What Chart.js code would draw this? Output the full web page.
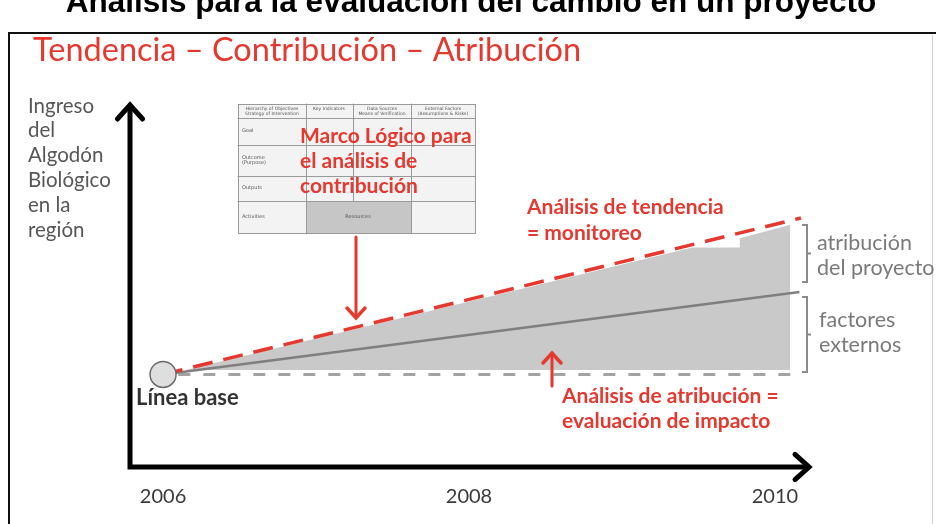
<!DOCTYPE html>
<html>
<head>
<meta charset="utf-8">
<script src="https://cdn.jsdelivr.net/npm/chart.js@4"></script>
<style>
  html, body { margin: 0; padding: 0; background: #fff; overflow: hidden; }
  #chart { display: block; }
</style>
</head>
<body>
<canvas id="chart" width="936" height="524"></canvas>
<script>
/* Values (ingreso on an arbitrary 0-200 scale) */
let tickYears = [2006, 2008, 2010]
let tickLabels = ['2006', '2008', '2010']

let baseYears = [2006]
let baseValues = [51]

// Análisis de tendencia (con proyecto)
let trendYears = [2006, 2010.17]
let trendValues = [51, 137.2]

// factores externos (sin proyecto)
let externalYears = [2006, 2010.16]
let externalValues = [51, 96.4]

// línea base
let baselineYears = [2006.1, 2010.15]
let baselineValues = [51, 51]

// grey area under the trend
let areaYears = [2006.15, 2009.46, 2009.77, 2009.77, 2010.10]
let areaValues = [53.5, 121, 121, 126, 133.5]
let areaFloor = 53.5

let red = '#e5382f'
let greyText = '#7a7a7a'

function points(xs, ys) {
    return xs.map(function(x, i) { return { x: x, y: ys[i] } })
}

function text(ctx, str, x, y, font, color, align) {
    ctx.font = font
    ctx.fillStyle = color
    ctx.textAlign = align || 'left'
    ctx.textBaseline = 'middle'
    ctx.fillText(str, x, y)
}

function arrowHead(ctx, tipX, tipY, dx, dy, size, width, color) {
    // open chevron pointing in direction (dx, dy)
    let px = -dy, py = dx
    ctx.strokeStyle = color
    ctx.lineWidth = width
    ctx.lineCap = 'round'
    ctx.lineJoin = 'miter'
    ctx.beginPath()
    ctx.moveTo(tipX - dx * size + px * size * 0.9, tipY - dy * size + py * size * 0.9)
    ctx.lineTo(tipX, tipY)
    ctx.lineTo(tipX - dx * size - px * size * 0.9, tipY - dy * size - py * size * 0.9)
    ctx.stroke()
}

function drawTable(ctx) {
    let cols = [238, 306, 353, 411, 475]
    let rows = [104, 118, 145, 176, 201, 233]
    ctx.fillStyle = '#f3f3f3'
    ctx.fillRect(cols[0], rows[0], cols[4] - cols[0], rows[5] - rows[0])
    ctx.fillStyle = '#c6c6c6'
    ctx.fillRect(cols[1], rows[4], cols[3] - cols[1], rows[5] - rows[4])
    ctx.strokeStyle = '#9a9a9a'
    ctx.lineWidth = 1
    ctx.strokeRect(cols[0] + 0.5, rows[0] + 0.5, cols[4] - cols[0], rows[5] - rows[0])
    ctx.beginPath()
    rows.slice(1, 5).forEach(function(r) {
        ctx.moveTo(cols[0], r + 0.5)
        ctx.lineTo(cols[4], r + 0.5)
    })
    ctx.moveTo(cols[1] + 0.5, rows[0]); ctx.lineTo(cols[1] + 0.5, rows[5])
    ctx.moveTo(cols[2] + 0.5, rows[0]); ctx.lineTo(cols[2] + 0.5, rows[4])
    ctx.moveTo(cols[3] + 0.5, rows[0]); ctx.lineTo(cols[3] + 0.5, rows[5])
    ctx.stroke()

    let f = '4.5px "DejaVu Sans"'
    let c = '#555'
    text(ctx, 'Hierarchy of Objectives', 272, 108.5, f, c, 'center')
    text(ctx, 'Strategy of Intervention', 272, 113.5, f, c, 'center')
    text(ctx, 'Key Indicators', 329, 109, f, c, 'center')
    text(ctx, 'Data Sources', 382, 108.5, f, c, 'center')
    text(ctx, 'Means of Verification', 382, 113.5, f, c, 'center')
    text(ctx, 'External Factors', 443, 108.5, f, c, 'center')
    text(ctx, '(Assumptions & Risks)', 443, 113.5, f, c, 'center')
    f = '5px "DejaVu Sans"'
    text(ctx, 'Goal', 242, 131, f, c)
    text(ctx, 'Outcome', 242, 158, f, c)
    text(ctx, '(Purpose)', 242, 163, f, c)
    text(ctx, 'Outputs', 242, 188, f, c)
    text(ctx, 'Activities', 242, 217, f, c)
    text(ctx, 'Resources', 358, 217, f, c, 'center')
}

let slidePlugin = {
    id: 'slide',
    beforeDraw: function(chart) {
        let ctx = chart.ctx
        ctx.save()
        ctx.fillStyle = '#fff'
        ctx.fillRect(0, 0, chart.width, chart.height)
        // outer frame
        ctx.strokeStyle = '#111'
        ctx.lineWidth = 2
        ctx.strokeRect(9, 33, 940, 520)
        ctx.strokeStyle = '#cfcfcf'
        ctx.lineWidth = 1
        ctx.beginPath()
        ctx.moveTo(932.5, 35); ctx.lineTo(932.5, 524)
        ctx.stroke()
        text(ctx, 'Análisis para la evaluación del cambio en un proyecto', 471, 3, 'bold 31.5px "Liberation Sans"', '#000', 'center')
        text(ctx, 'Tendencia – Contribución – Atribución', 33, 51, '32.5px Lato', red)
        ctx.restore()
    },
    afterDraw: function(chart) {
        let ctx = chart.ctx
        let area = chart.chartArea
        let x = chart.scales.x
        ctx.save()

        // axes with arrow heads
        ctx.strokeStyle = '#000'
        ctx.lineWidth = 5
        ctx.lineCap = 'butt'
        ctx.beginPath()
        ctx.moveTo(area.left, area.bottom)
        ctx.lineTo(area.left, area.top + 3)
        ctx.moveTo(area.left - 2.5, area.bottom)
        ctx.lineTo(area.right, area.bottom)
        ctx.stroke()
        arrowHead(ctx, area.left, area.top + 1, 0, -1, 14, 5, '#000')
        arrowHead(ctx, area.right + 1, area.bottom, 1, 0, 14, 5, '#000')

        // year labels through the x scale
        tickYears.forEach(function(yr, i) {
            text(ctx, tickLabels[i], x.getPixelForValue(yr), 497, '20px Lato', '#3a3a3a', 'center')
        })

        // y axis title
        let yTitle = ['Ingreso', 'del', 'Algodón', 'Biológico', 'en la', 'región']
        yTitle.forEach(function(s, i) {
            text(ctx, s, 28, 106 + i * 24.8, '20.5px Lato', '#575757')
        })

        text(ctx, 'Línea base', 136, 398, 'bold 22px Lato', '#333')

        drawTable(ctx)
        let bold = 'bold 21px Lato'
        text(ctx, 'Marco Lógico para', 300, 136, bold, red)
        text(ctx, 'el análisis de', 300, 161, bold, red)
        text(ctx, 'contribución', 300, 186, bold, red)

        text(ctx, 'Análisis de tendencia', 527, 207, bold, red)
        text(ctx, '= monitoreo', 527, 233, bold, red)
        text(ctx, 'Análisis de atribución =', 562, 396, bold, red)
        text(ctx, 'evaluación de impacto', 562, 421, bold, red)

        // red arrows
        ctx.strokeStyle = red
        ctx.lineWidth = 3
        ctx.beginPath()
        ctx.moveTo(356, 237); ctx.lineTo(356, 316)
        ctx.moveTo(552, 386); ctx.lineTo(552, 355)
        ctx.stroke()
        arrowHead(ctx, 356, 318, 0, 1, 10, 3.5, red)
        arrowHead(ctx, 552, 353, 0, -1, 10, 3.5, red)

        // braces on the right
        ctx.strokeStyle = '#8a8a8a'
        ctx.lineWidth = 2
        ctx.lineCap = 'butt'
        ;[[225, 282], [297, 372]].forEach(function(b) {
            let mid = (b[0] + b[1]) / 2
            ctx.beginPath()
            ctx.moveTo(802, b[0]); ctx.lineTo(807, b[0]); ctx.lineTo(807, b[1]); ctx.lineTo(802, b[1])
            ctx.moveTo(807, mid); ctx.lineTo(811, mid)
            ctx.stroke()
        })
        let g = '21.5px Lato'
        text(ctx, 'atribución', 817, 243, g, greyText)
        text(ctx, 'del proyecto', 817, 268, g, greyText)
        text(ctx, 'factores', 819, 320, g, greyText)
        text(ctx, 'externos', 819, 345, g, greyText)

        ctx.restore()
    }
}

let ctx = document.querySelector('#chart').getContext('2d')

let chart = new Chart(ctx, {
    type: 'line',
    data: {
        datasets: [
            {
                label: 'Línea base',
                data: points(baseYears, baseValues),
                showLine: false,
                pointRadius: 13,
                pointBackgroundColor: '#dedede',
                pointBorderColor: '#6b6b6b',
                pointBorderWidth: 1.5,
                order: 0
            },
            {
                label: 'Tendencia',
                data: points(trendYears, trendValues),
                borderColor: red,
                borderWidth: 3.5,
                borderDash: [20, 11],
                pointRadius: 0,
                fill: false,
                order: 1
            },
            {
                label: 'Factores externos',
                data: points(externalYears, externalValues),
                borderColor: '#7f7f7f',
                borderWidth: 2.5,
                pointRadius: 0,
                fill: false,
                order: 2
            },
            {
                label: 'Base',
                data: points(baselineYears, baselineValues),
                borderColor: '#a3a3a3',
                borderWidth: 3,
                borderDash: [12, 13],
                pointRadius: 0,
                fill: false,
                order: 3
            },
            {
                label: 'Área',
                data: points(areaYears, areaValues),
                borderWidth: 0,
                borderColor: 'rgba(0,0,0,0)',
                backgroundColor: '#c9c9c9',
                pointRadius: 0,
                fill: { value: areaFloor },
                order: 4
            }
        ]
    },
    options: {
        responsive: false,
        animation: false,
        layout: { padding: { left: 130, right: 128, top: 104, bottom: 57 } },
        scales: {
            x: { type: 'linear', min: 2005.784, max: 2010.216, display: false },
            y: { type: 'linear', min: 0, max: 200, display: false }
        },
        plugins: {
            legend: { display: false },
            tooltip: { enabled: false }
        }
    },
    plugins: [slidePlugin]
})
</script>
</body>
</html>
